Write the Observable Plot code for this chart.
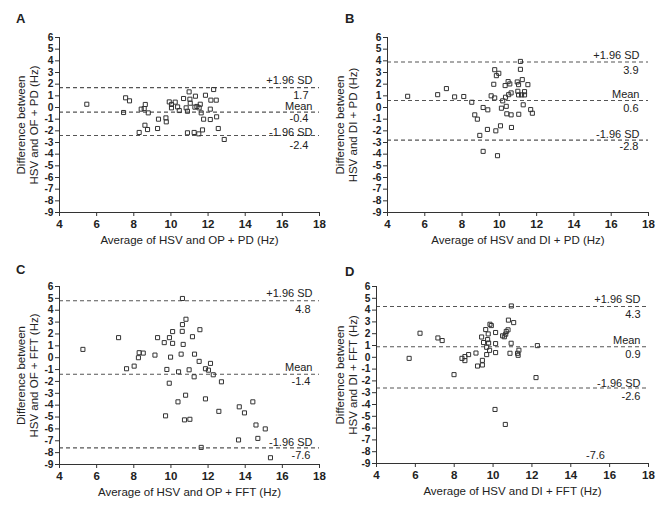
<!DOCTYPE html>
<html><head><meta charset="utf-8">
<script src="https://cdn.jsdelivr.net/npm/d3@7"></script>
<script src="https://cdn.jsdelivr.net/npm/@observablehq/plot@0.6"></script>
<style>
body{margin:0;background:#fff;font-family:"Liberation Sans",Arial,sans-serif;}
#wrap{position:relative;width:666px;height:506px;overflow:hidden;}
.panel{position:absolute;width:333px;height:253px;}
.letter{position:absolute;font-weight:bold;font-size:13px;color:#222;line-height:1;}
g[aria-label$="tick label"]{font-weight:bold;}
</style></head><body><div id="wrap"></div>
<script>
const panelLetters = ["A", "B", "C", "D"];
const xLabels = ["Average of HSV and OP + PD (Hz)", "Average of HSV and DI + PD (Hz)", "Average of HSV and OP + FFT (Hz)", "Average of HSV and DI + FFT (Hz)"];
const yLabels = ["Difference between\nHSV and OF + PD (Hz)", "Difference between\nHSV and DI + PD (Hz)", "Difference between\nHSV and OF + FFT (Hz)", "Difference between\nHSV and DI + FFT (Hz)"];
const xTicks = [4, 6, 8, 10, 12, 14, 16, 18];
const yTicks = [-9, -8, -7, -6, -5, -4, -3, -2, -1, 0, 1, 2, 3, 4, 5, 6];
const limitNames = ["+1.96 SD", "Mean", "-1.96 SD"];

const aLimits = [1.7, -0.4, -2.4];
const bLimits = [3.9, 0.6, -2.8];
const cLimits = [4.8, -1.4, -7.6];
const dLimits = [4.3, 0.9, -2.6];

const aX = [5.47, 7.56, 7.77, 7.45, 8.62, 8.40, 8.56, 8.78, 8.60, 8.74, 8.29, 9.33, 9.28, 9.73, 9.75, 9.91, 10.03, 10.03, 10.23, 10.36, 10.45, 10.68, 10.82, 10.89, 10.98, 11.02, 11.04, 11.32, 11.29, 11.40, 11.58, 11.52, 11.63, 11.86, 12.15, 12.44, 12.30, 12.12, 11.76, 12.12, 12.46, 12.55, 12.87, 10.89, 11.25, 11.50, 11.70];
const aY = [0.28, 0.83, 0.57, -0.43, 0.26, -0.14, -0.09, -0.46, -1.52, -1.89, -2.14, -1.00, -1.80, -0.89, -1.23, 0.48, 0.26, -0.03, 0.46, 0.05, -0.26, 0.77, -0.03, -0.32, 1.34, 0.71, 0.37, 0.97, 0.03, 0.09, 0.28, -0.03, -0.46, 1.05, 0.63, 0.63, 1.54, -0.14, -1.00, -1.03, -0.80, -1.80, -2.74, -2.17, -2.14, -2.26, -1.92];

const bX = [5.08, 6.69, 7.16, 7.60, 8.09, 8.52, 8.68, 8.82, 9.13, 9.38, 8.95, 9.36, 9.13, 9.90, 9.56, 9.75, 9.70, 9.75, 9.84, 9.97, 9.81, 10.06, 10.11, 10.18, 10.33, 10.37, 10.40, 10.31, 10.47, 10.56, 10.50, 10.63, 10.63, 10.65, 10.96, 11.03, 10.99, 11.03, 11.04, 11.13, 11.13, 11.23, 11.19, 11.35, 11.35, 11.28, 11.53, 11.68, 11.77];
const bY = [0.96, 1.10, 1.62, 0.91, 0.94, 0.45, -0.63, -1.00, 0.00, -0.20, -2.39, -1.88, -3.76, -4.13, 1.00, 0.82, 1.99, 3.24, 2.73, 2.93, -2.00, -1.57, -0.06, 0.57, 0.88, 0.10, -0.54, 1.88, 2.22, 2.02, 1.10, 1.25, -0.63, -1.71, 2.19, 1.96, 1.39, 1.08, -0.58, 3.95, 3.27, 2.39, 1.08, 1.36, 1.08, 0.23, 1.96, -0.18, -0.49];

const cX = [5.26, 7.18, 7.61, 8.02, 8.29, 8.51, 8.25, 9.14, 9.28, 9.64, 9.92, 10.09, 10.09, 9.98, 9.78, 9.91, 10.41, 10.55, 10.61, 10.62, 10.81, 10.66, 10.62, 10.98, 11.27, 11.25, 11.16, 11.56, 11.52, 11.86, 12.02, 12.13, 12.28, 12.72, 10.38, 10.79, 9.71, 10.73, 11.02, 11.86, 12.58, 13.68, 13.96, 14.41, 14.58, 15.08, 13.64, 14.68, 11.63, 15.36];
const cY = [0.70, 1.69, -0.93, -0.71, 0.42, 0.39, 0.00, 0.22, 1.69, 1.27, 1.69, 2.20, 1.21, 0.05, -0.99, -2.15, -1.19, 0.30, 2.22, 2.79, 3.24, 1.12, 4.99, -1.02, 0.30, -1.61, 1.77, 2.36, -0.31, -0.93, -1.05, -0.48, -1.44, -2.03, -3.72, -3.16, -4.90, -5.24, -5.19, -3.47, -4.52, -4.14, -4.65, -3.72, -5.67, -6.00, -6.93, -6.80, -7.56, -8.43];

const dX = [5.68, 6.24, 7.16, 7.38, 7.99, 8.40, 8.55, 8.55, 8.74, 9.12, 9.20, 9.45, 9.45, 9.41, 9.51, 9.62, 9.67, 9.72, 9.75, 9.77, 9.67, 9.82, 9.84, 9.91, 10.13, 10.13, 10.13, 10.10, 10.63, 10.49, 10.58, 10.65, 10.68, 10.77, 10.79, 10.93, 10.87, 10.94, 11.06, 11.26, 11.29, 11.33, 12.21, 12.28];
const dY = [-0.09, 2.04, 1.64, 1.42, -1.47, -0.09, 0.06, -0.28, 0.23, 0.36, -0.74, -0.65, -0.26, 1.72, 1.25, 2.35, 0.85, 1.50, 1.98, 1.21, 0.23, 0.59, 2.80, 2.69, 2.10, 1.16, 0.40, -4.42, -5.69, 1.82, 1.74, 1.96, 2.19, 2.33, 3.15, 1.19, 0.34, 4.35, 2.94, 0.34, 0.17, 0.60, -1.72, 0.99];

// stray value label printed in panel D of the original
const dStrayLabel = ["-7.6"];
const dStrayX = [15.27];
const dStrayY = [-8.32];

const wrap = document.getElementById("wrap");
const fontFamily = "'Liberation Sans', Arial, Helvetica, sans-serif";

const panels = [
  {xs: aX, ys: aY, lim: aLimits, pos: [0, 0], m: {l: 59, r: 14, t: 37, b: 41}, ydx: -32, ldx: -7, vdx: -11, ndy: [-7, -5.5, -3.5], vdy: [7.5, 6, 9.5], letter: [16, 12]},
  {xs: bX, ys: bY, lim: bLimits, pos: [333, 0], m: {l: 54, r: 18, t: 37, b: 41}, ydx: -41, ldx: -9, vdx: -10, ndy: [-7, -6.5, -5.5], vdy: [8.5, 7.5, 6.5], letter: [12, 12]},
  {xs: cX, ys: cY, lim: cLimits, pos: [0, 253], m: {l: 59, r: 14, t: 33, b: 42}, ydx: -32, ldx: -7, vdx: -9, ndy: [-7, -6.5, -5], vdy: [8.5, 7.5, 8], letter: [16, 10]},
  {xs: dX, ys: dY, lim: dLimits, pos: [333, 253], m: {l: 43, r: 18, t: 33, b: 43}, ydx: -30, ldx: -8, vdx: -8, ndy: [-7, -6.5, -5], vdy: [8, 7.5, 8], letter: [12, 12]}
];

panels.forEach((p, i) => {
  const pts = p.xs.map((x, j) => ({x, y: p.ys[j]}));
  const lines = p.lim.map((v, j) => ({v, name: limitNames[j], val: String(v), ndy: p.ndy[j], vdy: p.vdy[j]}));
  const marks = [
    Plot.ruleY(lines, {y: "v", stroke: "#555", strokeWidth: 1.1, strokeDasharray: "4,3"}),
    Plot.ruleX([4], {stroke: "#333"}),
    Plot.ruleY([-9], {stroke: "#333"}),
    Plot.axisX({ticks: xTicks, tickSize: 4, tickPadding: 3, label: null, tickFormat: d => String(d), fontSize: 11.5, stroke: "#333", fill: "#222"}),
    Plot.axisY({ticks: yTicks, tickSize: 4, tickPadding: 2, label: null, tickFormat: d => String(d), fontSize: 10.2, stroke: "#333", fill: "#222"}),
    Plot.dot(pts, {x: "x", y: "y", symbol: "square", r: 2.3, stroke: "#333", strokeWidth: 1, fill: "none"}),
    ...lines.map(l => Plot.text([l], {x: 18, y: "v", text: "name", textAnchor: "end", dx: p.ldx, dy: l.ndy, fontSize: 11, fill: "#222"})),
    ...lines.map(l => Plot.text([l], {x: 18, y: "v", text: "val", textAnchor: "end", dx: p.vdx, dy: l.vdy, fontSize: 11, fill: "#222"})),
    Plot.text([xLabels[i]], {frameAnchor: "bottom", dy: 31, fontSize: 11.5, fill: "#222"}),
    Plot.text([yLabels[i]], {frameAnchor: "left", textAnchor: "middle", rotate: -90, dx: p.ydx, lineHeight: 1.1, fontSize: 11.5, fill: "#222"})
  ];
  if (i === 3) {
    marks.push(Plot.text(dStrayLabel, {x: (d, k) => dStrayX[k], y: (d, k) => dStrayY[k], text: d => d, fontSize: 11, fill: "#222"}));
  }
  const chart = Plot.plot({
    width: 333, height: 253,
    marginLeft: p.m.l, marginRight: p.m.r, marginTop: p.m.t, marginBottom: p.m.b,
    style: {fontFamily, fontSize: "11.5px", color: "#222", background: "transparent", overflow: "visible"},
    x: {domain: [4, 18]},
    y: {domain: [-9, 6]},
    marks
  });
  const div = document.createElement("div");
  div.className = "panel";
  div.style.left = p.pos[0] + "px";
  div.style.top = p.pos[1] + "px";
  div.appendChild(chart);
  const lab = document.createElement("div");
  lab.className = "letter";
  lab.textContent = panelLetters[i];
  lab.style.left = p.letter[0] + "px";
  lab.style.top = p.letter[1] + "px";
  div.appendChild(lab);
  wrap.appendChild(div);
});
</script></body></html>
